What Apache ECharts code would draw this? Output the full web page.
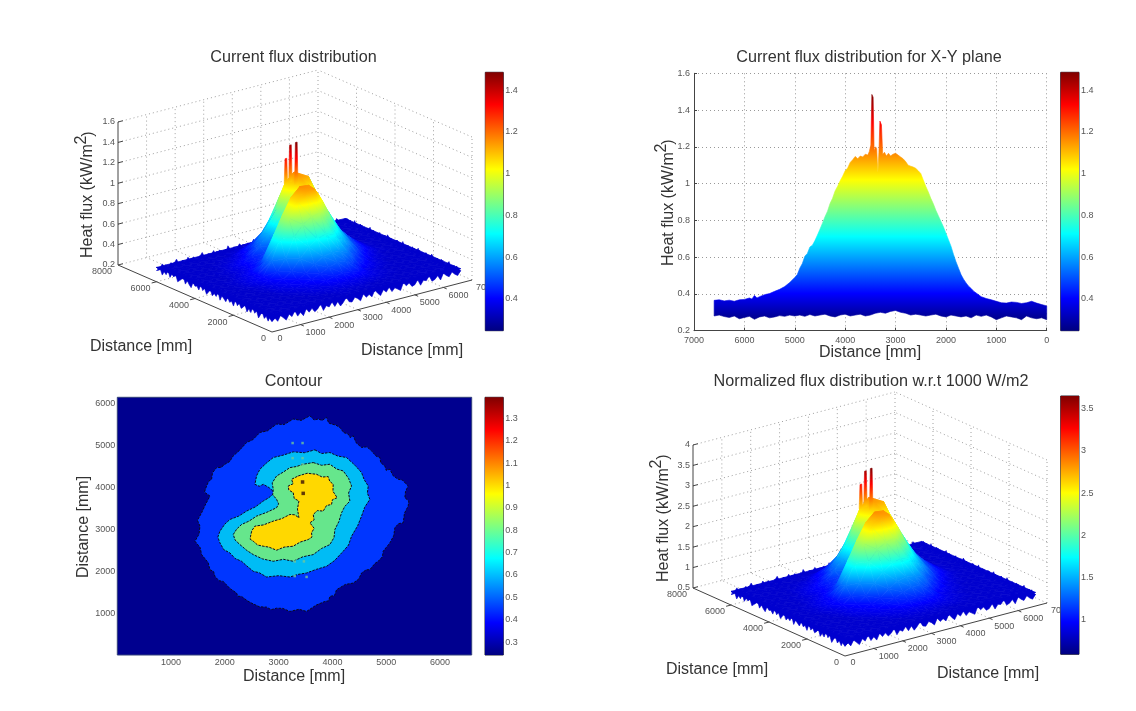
<!DOCTYPE html>
<html><head><meta charset="utf-8">
<style>html,body{margin:0;padding:0;background:#fff}#c{width:1136px;height:711px;filter:blur(0.5px)}</style>
<script src="https://cdn.jsdelivr.net/npm/echarts@6/dist/echarts.min.js"></script>
</head><body><div id="c"></div>
<script>
// ---------- values ----------
const gridX = [0,300,600,900,1200,1500,1800,2100,2400,2700,3000,3300,3600,3900,4200,4500,4800,5100,5400,5700,6000,6300,6600];
const gridY = [0,300,600,900,1200,1500,1800,2100,2400,2700,3000,3300,3600,3900,4200,4500,4800,5100,5400,5700,6000];
// flux in hundredths of kW/m2: one row per gridY, one column per gridX
const fluxRows = [
[34,34,34,34,34,34,34,34,34,34,34,34,34,34,34,34,34,34,34,34,34,34,34],
[34,34,34,34,34,34,34,34,34,34,34,34,34,34,34,34,34,34,34,34,34,34,34],
[34,34,34,34,34,34,34,34,34,35,35,35,35,34,34,34,34,34,34,34,34,34,34],
[34,34,34,34,34,34,34,35,36,37,38,38,38,37,36,35,34,34,34,34,34,34,34],
[34,34,34,34,34,34,35,37,38,41,43,44,43,41,38,36,35,34,34,34,34,34,34],
[34,34,34,34,34,35,37,39,42,45,49,52,51,46,39,37,35,34,34,34,34,34,34],
[34,34,34,34,34,37,39,41,45,52,57,59,58,54,45,40,37,35,34,34,34,34,34],
[34,34,34,34,35,38,41,47,57,66,72,75,72,60,51,44,38,36,34,34,34,34,34],
[34,34,34,34,36,40,46,57,76,86,91,93,82,72,60,50,42,37,35,34,34,34,34],
[34,34,34,35,38,41,54,74,92,106,112,114,99,79,66,56,46,40,36,34,34,34,34],
[34,34,34,35,38,40,52,76,93,108,116,115,106,87,71,59,49,43,38,35,34,34,34],
[34,34,34,35,37,40,45,54,70,82,92,102,105,92,80,62,53,45,39,35,34,34,34],
[34,34,34,34,36,38,41,46,53,60,80,94,108,103,84,68,56,47,40,35,34,34,34],
[34,34,34,34,35,37,40,44,48,52,82,100,114,112,92,74,57,47,40,35,34,34,34],
[34,34,34,34,35,37,40,44,52,62,84,108,116,106,83,64,50,42,37,34,34,34,34],
[34,34,34,34,34,36,38,41,48,60,72,92,100,96,72,58,46,40,36,34,34,34,34],
[34,34,34,34,34,35,36,38,42,50,60,74,80,70,55,45,39,36,34,34,34,34,34],
[34,34,34,34,34,34,35,36,40,45,50,54,56,52,46,40,36,34,34,34,34,34,34],
[34,34,34,34,34,34,34,34,36,38,41,44,45,44,40,36,34,34,34,34,34,34,34],
[34,34,34,34,34,34,34,34,34,34,36,38,40,38,36,34,34,34,34,34,34,34,34],
[34,34,34,34,34,34,34,34,34,34,34,34,34,34,34,34,34,34,34,34,34,34,34]];
// noisy rim of the surface, every 100 mm, hundredths of kW/m2
const edgeNear = [30,33,29,34,31,28,33,30,35,29,32,28,34,30,33,29,31,35,28,32,30,34,29,33,28,31,35,30,29,33,31,28,34,30,32,29,35,31,28,33,30,34,29,32,30,28,35,31,33,29,30,34,28,32,31,35,29,30,33,28,34,31,29,33,30,28,32];
const edgeFar = [34,31,36,32,29,35,33,37,31,34,30,36,32,35,29,33,37,31,34,32,36,30,35,33,29,37,32,34,31,36,33,30,35,32,37,31,34,29,36,33,31,35,32,37,30,34,33,36,31,29,35,32,34,37,31,33,30,36,32,35,31,34,29,36,33,31,34];
const edgeLeft = [31,34,29,33,30,35,32,28,34,31,36,30,33,29,35,32,30,34,31,36,29,33,31,35,30,32,34,29,36,31,33,30,35,32,29,34,31,36,30,33,32,35,29,31,34,30,36,33,31,29,35,32,34,30,36,31,33,29,34,32,31];
const edgeRight = [32,29,35,31,34,30,36,33,29,32,35,31,34,28,33,36,30,32,35,29,34,31,36,33,30,35,29,32,34,31,36,30,33,35,29,32,31,34,36,30,33,29,35,32,31,34,30,36,33,29,34,31,35,32,30,36,29,33,31,35,32];
const spikeX = [3280,3440,3450];
const spikeY = [4146,4150,3860];
const spikeZ = [1.32,1.44,1.49];
const normalizeFactor = 2.45;   // ratio of the two colour bars (flux vs 1000 W/m2 normalised)

const profileUpperDist = [6600,6500,6400,6300,6200,6100,6000,5900,5850,5800,5750,5700,5600,5500,5400,5300,5200,5100,5000,4950,4900,4850,4800,4750,4700,4650,4600,4550,4500,4450,4400,4350,4300,4250,4200,4150,4100,4050,4000,3950,3900,3850,3800,3750,3700,3650,3600,3550,3520,3490,3470,3445,3425,3395,3375,3350,3330,3310,3280,3255,3220,3180,3140,3100,3050,3000,2950,2900,2850,2800,2750,2700,2650,2600,2550,2500,2450,2400,2350,2300,2250,2200,2150,2100,2050,2000,1950,1900,1850,1800,1750,1700,1650,1600,1550,1500,1450,1400,1300,1200,1100,1000,900,800,700,600,500,400,300,200,100,0];
const profileUpper = [.365,.368,.362,.366,.360,.368,.370,.378,.372,.392,.378,.385,.396,.402,.414,.425,.440,.462,.490,.505,.540,.565,.605,.62,.655,.665,.69,.72,.752,.785,.82,.85,.892,.92,.96,.985,1.015,1.04,1.07,1.085,1.115,1.13,1.148,1.135,1.15,1.145,1.16,1.155,1.175,1.21,1.485,1.47,1.18,1.20,1.19,1.06,1.17,1.34,1.32,1.16,1.17,1.15,1.165,1.15,1.16,1.165,1.155,1.145,1.135,1.12,1.10,1.095,1.09,1.083,1.07,1.055,1.02,.985,.955,.92,.89,.855,.825,.795,.765,.73,.695,.66,.615,.575,.54,.505,.48,.46,.442,.43,.415,.405,.385,.375,.368,.36,.352,.35,.356,.354,.348,.352,.36,.35,.342,.335];
const profileLowerDist = [6600,6500,6400,6300,6200,6100,6000,5900,5800,5700,5600,5500,5400,5300,5200,5100,5000,4900,4800,4700,4600,4500,4400,4300,4200,4100,4000,3900,3800,3700,3600,3500,3400,3300,3200,3100,3000,2900,2800,2700,2600,2500,2400,2300,2200,2100,2000,1900,1800,1700,1600,1500,1400,1300,1200,1100,1000,900,800,700,600,500,400,300,200,100,0];
const profileLower = [.28,.285,.277,.272,.28,.265,.272,.278,.262,.275,.28,.27,.275,.282,.278,.285,.28,.285,.278,.288,.28,.285,.29,.28,.275,.285,.29,.28,.285,.29,.28,.285,.295,.30,.295,.305,.31,.30,.295,.285,.29,.285,.28,.285,.29,.28,.275,.285,.28,.275,.28,.27,.285,.278,.285,.275,.26,.27,.28,.275,.27,.26,.28,.27,.265,.27,.26];

// contour bands: [x mm, y mm] outlines
const bandOuter = [[3581,5701],[3660,5600],[3736,5622],[3810,5590],[3891,5662],[3930,5530],[3984,5502],[4060,5480],[4139,5422],[4210,5300],[4294,5263],[4330,5180],[4387,5223],[4440,5060],[4542,4944],[4640,4960],[4728,4864],[4810,4740],[4882,4705],[4900,4580],[4975,4505],[5000,4400],[5068,4426],[5130,4270],[5223,4186],[5300,4170],[5409,4027],[5360,3900],[5347,3748],[5420,3670],[5409,3548],[5340,3380],[5316,3150],[5230,3130],[5161,3030],[5140,2840],[5068,2671],[5030,2610],[4944,2472],[4930,2340],[4851,2233],[4790,2180],[4696,2033],[4630,2030],[4542,1954],[4490,1810],[4387,1714],[4240,1680],[4077,1555],[4040,1420],[3953,1395],[3930,1290],[3860,1276],[3700,1190],[3519,1037],[3380,1090],[3209,1037],[3080,1110],[2962,1116],[2860,1080],[2776,1140],[2640,1150],[2497,1236],[2420,1290],[2311,1395],[2240,1400],[2218,1475],[2090,1590],[1970,1754],[1890,1770],[1815,1874],[1790,1990],[1722,2033],[1690,2200],[1568,2392],[1540,2560],[1444,2711],[1520,2880],[1537,3070],[1490,3210],[1568,3389],[1630,3560],[1722,3788],[1620,3880],[1660,4027],[1700,4140],[1753,4186],[1770,4340],[1846,4465],[1930,4470],[2001,4545],[2090,4610],[2156,4745],[2260,4860],[2404,5063],[2520,5130],[2652,5303],[2790,5340],[2962,5502],[3100,5490],[3271,5622],[3420,5590]];
const bandMid = [[3674,4888],[3800,4800],[3953,4824],[4100,4740],[4263,4705],[4420,4520],[4542,4346],[4590,4180],[4666,4027],[4650,3860],[4696,3708],[4600,3520],[4542,3309],[4470,3080],[4356,2831],[4300,2620],[4201,2472],[4040,2250],[3891,2113],[3700,2040],[3519,1954],[3360,1920],[3210,1858],[3000,1890],[2776,1858],[2640,1960],[2528,1994],[2400,2130],[2311,2233],[2190,2300],[2094,2432],[1980,2510],[1908,2671],[1870,2810],[1908,2950],[2000,3120],[2094,3229],[2260,3310],[2404,3429],[2570,3530],[2714,3668],[2810,3740],[2931,3867],[2820,3990],[2714,4067],[2640,4020],[2559,4067],[2590,4270],[2652,4426],[2770,4570],[2900,4705],[3080,4760],[3271,4840],[3480,4820]];
const bandInner = [[3643,4585],[3800,4520],[3953,4545],[4080,4430],[4201,4386],[4300,4210],[4356,4027],[4300,3860],[4325,3668],[4230,3540],[4170,3389],[4120,3180],[4046,2990],[4030,2800],[3953,2631],[3800,2540],[3643,2392],[3450,2340],[3271,2233],[3090,2280],[2900,2233],[2700,2290],[2528,2392],[2410,2490],[2280,2631],[2190,2740],[2156,2871],[2220,3000],[2311,3110],[2450,3190],[2590,3309],[2780,3400],[2962,3509],[3000,3600],[2962,3708],[2890,3820],[2900,3947],[2880,4100],[2962,4266],[3090,4360],[3210,4465],[3330,4490],[3457,4545]];
const bandTop = [[3364,4266],[3530,4330],[3705,4306],[3810,4240],[3922,4250],[3950,4140],[4015,4067],[4010,3900],[4089,3748],[4000,3700],[3984,3588],[3890,3560],[3829,3429],[3720,3440],[3643,3349],[3660,3220],[3581,3150],[3660,3020],[3612,2910],[3620,2810],[3550,2751],[3400,2690],[3271,2592],[3100,2570],[2962,2496],[2820,2570],[2714,2592],[2610,2620],[2528,2711],[2470,2760],[2478,2831],[2500,2960],[2559,3070],[2720,3100],[2900,3190],[3060,3250],[3210,3349],[3300,3340],[3377,3269],[3350,3480],[3377,3668],[3290,3730],[3271,3867],[3190,3930],[3178,4027],[3270,4080],[3240,4186]];
const bandColors = ['#0036ff','#00bcf5','#66e68c','#ffd800'];
const darkSpots = [[3445,4122],[3457,3851]];
const speckles = [[3260,5050],[3445,5050],[3260,4690],[3445,4690],[3445,4540],[3300,2230],[3470,2230],[3300,1880],[3520,1860]];

const flux3dZTicks = [0.2,0.4,0.6,0.8,1,1.2,1.4,1.6];
const norm3dZTicks = [0.5,1,1.5,2,2.5,3,3.5,4];
const xTickValues = [0,1000,2000,3000,4000,5000,6000,7000];
const xTickLabels = ['0','1000','2000','3000','4000','5000','6000','70'];
const yTickValues = [0,2000,4000,6000,8000];
const yTickLabels = ['0','2000','4000','6000','8000'];
const barFluxTicks = [0.4,0.6,0.8,1,1.2,1.4];
const barContourTicks = [0.3,0.4,0.5,0.6,0.7,0.8,0.9,1,1.1,1.2,1.3];
const barNormTicks = [1,1.5,2,2.5,3,3.5];

// ---------- jet colour map ----------
const jetKnots = [[0,[0,0,128]],[.125,[0,0,255]],[.375,[0,255,255]],[.625,[255,255,0]],[.875,[255,0,0]],[1,[128,0,0]]];
function jet(t){
  t=Math.max(0,Math.min(1,t));
  for(let i=1;i<jetKnots.length;i++){
    if(t<=jetKnots[i][0]){
      const a=jetKnots[i-1],b=jetKnots[i],f=(t-a[0])/(b[0]-a[0]);
      return 'rgb('+a[1].map((v,k)=>Math.round(v+(b[1][k]-v)*f)).join(',')+')';
    }
  }
  return 'rgb(128,0,0)';
}
function jetStops(t0,t1){
  const s=[{offset:0,color:jet(t0)}];
  jetKnots.forEach(k=>{ if(k[0]>t0&&k[0]<t1) s.push({offset:(k[0]-t0)/(t1-t0),color:jet(k[0])}); });
  s.push({offset:1,color:jet(t1)});
  return s;
}
const G=echarts.graphic;
function triFill(p,z,cmin,cmax){
  const mean=(z[0]+z[1]+z[2])/3, flat=jet((mean-cmin)/(cmax-cmin));
  const zlo=Math.min(z[0],z[1],z[2]), zhi=Math.max(z[0],z[1],z[2]);
  const ax=p[1][0]-p[0][0],ay=p[1][1]-p[0][1],bx=p[2][0]-p[0][0],by=p[2][1]-p[0][1];
  const area=ax*by-bx*ay;
  if(Math.abs(area)<0.01||zhi-zlo<1e-4) return flat;
  const dz1=z[1]-z[0],dz2=z[2]-z[0];
  const gx=(dz1*by-dz2*ay)/area, gy=(dz2*ax-dz1*bx)/area, g2=gx*gx+gy*gy;
  if(g2<1e-12) return flat;
  const at=v=>[p[0][0]+(v-z[0])*gx/g2,p[0][1]+(v-z[0])*gy/g2];
  const s=at(zlo),e=at(zhi);
  const t0=Math.max(0,(zlo-cmin)/(cmax-cmin)),t1=Math.min(1,(zhi-cmin)/(cmax-cmin));
  if(t1-t0<1e-4) return flat;
  return new G.LinearGradient(s[0],s[1],e[0],e[1],jetStops(t0,t1),true);
}

// ---------- option scaffolding ----------
const FONT='"Liberation Sans",Arial,sans-serif';
const grids=[],xAxes=[],yAxes=[],series=[],graphics=[],titles=[];
function addGrid(g,x,y){grids.push(g);const i=grids.length-1;xAxes.push(Object.assign({gridIndex:i},x));yAxes.push(Object.assign({gridIndex:i},y));return i;}
const hidden=(max,inv)=>({type:'value',show:false,min:0,max:max,inverse:!!inv});
function title(text,x,y){titles.push({text,left:x,top:y,padding:0,textAlign:'center',textVerticalAlign:'middle',textStyle:{fontFamily:FONT,fontSize:16.2,fontWeight:'normal',color:'#333'}});}
function name(text,x,y,rot,size){graphics.push({type:'text',x,y,rotation:rot||0,z:50,style:{text,fontFamily:FONT,fontSize:size||16,fill:'#333',align:'center',verticalAlign:'middle'}});}
function zName(x,y,sx,sy,px,py){
  graphics.push({type:'text',x,y,rotation:Math.PI/2,z:50,style:{text:'Heat flux (kW/m',fontFamily:FONT,fontSize:16,fill:'#333',align:'left',verticalAlign:'middle'}});
  graphics.push({type:'text',x:sx,y:sy,rotation:Math.PI/2,z:50,style:{text:'2',fontFamily:FONT,fontSize:16,fill:'#333',align:'center',verticalAlign:'middle'}});
  graphics.push({type:'text',x:px,y:py,rotation:Math.PI/2,z:50,style:{text:')',fontFamily:FONT,fontSize:16,fill:'#333',align:'center',verticalAlign:'middle'}});
}
function colorBar(left,top,width,height,min,max,ticks){
  const stops=jetKnots.map(k=>({offset:1-k[0],color:jet(k[0])})).reverse();
  const i=addGrid({left,top,width,height,show:true,borderColor:'#223',borderWidth:1,backgroundColor:'transparent'},
    {type:'category',data:[''],show:false},
    {type:'value',min,max,position:'right',splitLine:{show:false},axisLine:{show:false},
     axisTick:{show:true,inside:true,length:2.5,customValues:ticks,lineStyle:{color:'#222'}},
     axisLabel:{show:true,customValues:ticks,margin:2,fontSize:9,fontFamily:FONT,color:'#555',hideOverlap:false}});
  series.push({type:'bar',xAxisIndex:i,yAxisIndex:i,data:[max],barWidth:'100%',silent:true,itemStyle:{color:new G.LinearGradient(0,0,0,1,stops)}});
}

// ---------- 3-D box panels ----------
function panel3D(v){
  const gi=addGrid({left:v.gl,top:v.gt,width:v.gw,height:v.gh},hidden(v.gw),hidden(v.gh,true));
  const proj=(api,X,Y,Z)=>api.coord([
    v.F[0]+X/7000*v.ex[0]+Y/8000*v.ey[0]-v.gl,
    v.F[1]+X/7000*v.ex[1]+Y/8000*v.ey[1]-(Z-v.z0)/(v.z1-v.z0)*v.h-v.gt]);
  const base={type:'custom',coordinateSystem:'cartesian2d',xAxisIndex:gi,yAxisIndex:gi,silent:true,clip:false,progressive:0,animation:false};
  const dotted=[],solid=[];
  const z0=v.z0,z1=v.z1,XM=7000,YM=8000;
  xTickValues.slice(1,-1).forEach(x=>{dotted.push([x,YM,z0,x,YM,z1],[x,0,z0,x,YM,z0]);solid.push([x,0,z0,x,-170,z0]);});
  yTickValues.slice(1,-1).forEach(y=>{dotted.push([XM,y,z0,XM,y,z1],[0,y,z0,XM,y,z0]);solid.push([0,y,z0,-170,y,z0]);});
  v.zTicks.forEach(z=>{dotted.push([0,YM,z,XM,YM,z],[XM,0,z,XM,YM,z]);solid.push([0,YM,z,170,YM,z]);});
  dotted.push([XM,YM,z0,XM,YM,z1],[XM,0,z0,XM,0,z1]);
  solid.push([0,YM,z0,0,YM,z1],[0,0,z0,0,YM,z0],[0,0,z0,XM,0,z0]);
  const segs=(list,style)=>Object.assign({},base,{data:list,renderItem:(p,api)=>{
    const a=proj(api,api.value(0),api.value(1),api.value(2)),b=proj(api,api.value(3),api.value(4),api.value(5));
    return {type:'line',shape:{x1:a[0],y1:a[1],x2:b[0],y2:b[1]},style};
  }});
  series.push(segs(dotted,{stroke:'#a0a0a0',lineWidth:1,lineDash:[1,3]}));
  series.push(segs(solid,{stroke:'#444',lineWidth:1}));
  // noisy rim strips
  const rimColor=jet((.34*v.scale-v.cmin)/(v.cmax-v.cmin));
  const rim=(vals,at,inA,inB)=>Object.assign({},base,{data:[[0]],renderItem:(p,api)=>{
    const pts=vals.map((z,k)=>{const q=at(k);return proj(api,q[0],q[1],z/100*v.scale);});
    pts.push(proj(api,inB[0],inB[1],.34*v.scale),proj(api,inA[0],inA[1],.34*v.scale));
    return {type:'polygon',shape:{points:pts},style:{fill:rimColor,stroke:rimColor,lineWidth:0.6}};
  }});
  series.push(rim(edgeFar,k=>[k*100,6000],[0,5800],[6600,5800]));
  series.push(rim(edgeRight,k=>[6600,k*100],[6400,0],[6400,6000]));
  // surface, far cells first
  const tris=[];
  for(let j=gridY.length-2;j>=0;j--)for(let i=gridX.length-2;i>=0;i--){tris.push([i,j,0]);tris.push([i,j,1]);}
  const val=(i,j)=>fluxRows[j][i]/100*v.scale;
  series.push(Object.assign({},base,{data:tris,renderItem:(p,api)=>{
    const i=api.value(0),j=api.value(1),t=api.value(2);
    const c=t===0?[[i+1,j],[i,j+1],[i+1,j+1]]:[[i,j],[i+1,j],[i,j+1]];
    const zs=c.map(q=>val(q[0],q[1]));
    const pts=c.map((q,k)=>proj(api,gridX[q[0]],gridY[q[1]],zs[k]));
    const f=triFill(pts,zs,v.cmin,v.cmax);
    return {type:'polygon',shape:{points:pts},style:{fill:f,stroke:f,lineWidth:0.7}};
  }}));
  series.push(rim(edgeNear,k=>[k*100,0],[0,200],[6600,200]));
  series.push(rim(edgeLeft,k=>[0,k*100],[200,0],[200,6000]));
  // narrow spikes on top of the plateau
  series.push(Object.assign({},base,{data:spikeX.map((_,i)=>[i]),renderItem:(p,api)=>{
    const i=api.value(0),X=spikeX[i],Y=spikeY[i],top=spikeZ[i]*v.scale,low=1.08*v.scale;
    const a=proj(api,X-60,Y,low),b=proj(api,X+60,Y,low),c=proj(api,X+30,Y,top),d=proj(api,X-30,Y,top);
    const f=triFill([a,b,c],[low,low,top],v.cmin,v.cmax);
    return {type:'polygon',shape:{points:[a,b,c,d]},style:{fill:f,stroke:f,lineWidth:0.6}};
  }}));
  // tick labels
  const txt=(api,X,Y,Z,dx,dy,s,al)=>{const a=proj(api,X,Y,Z);return {type:'text',x:a[0]+dx,y:a[1]+dy,style:{text:s,fontFamily:FONT,fontSize:9,fill:'#555',align:al,verticalAlign:'middle'}};};
  series.push(Object.assign({},base,{data:v.zTicks.map((_,i)=>[i]),renderItem:(p,api)=>{const z=v.zTicks[api.value(0)];return txt(api,0,YM,z,-3,0,String(z),'right');}}));
  series.push(Object.assign({},base,{data:xTickValues.map((_,i)=>[i]),renderItem:(p,api)=>{const i=api.value(0);
    return i===0?txt(api,0,0,z0,8,7,'0','center'):(i===7?txt(api,XM,0,z0,4,8,xTickLabels[i],'left'):txt(api,xTickValues[i],0,z0,15,8,xTickLabels[i],'center'));}}));
  series.push(Object.assign({},base,{data:yTickValues.map((_,i)=>[i]),renderItem:(p,api)=>{const i=api.value(0);return txt(api,0,yTickValues[i],z0,-6,7,yTickLabels[i],'right');}}));
}
panel3D({gl:60,gt:60,gw:430,gh:300,F:[272,332],ex:[200,-52],ey:[-154,-67],h:143,z0:.2,z1:1.6,zTicks:flux3dZTicks,scale:1,cmin:.248,cmax:1.485});
panel3D({gl:640,gt:385,gw:420,gh:300,F:[845,656],ex:[202,-53],ey:[-152,-68],h:143,z0:.5,z1:4,zTicks:norm3dZTicks,scale:normalizeFactor,cmin:.595,cmax:3.646});

// ---------- X-Y plane profile ----------
{
  const i=addGrid({left:694,top:73.3,width:352.7,height:257.4},
    {type:'value',inverse:true,min:0,max:7000,interval:1000,axisLine:{onZero:false,lineStyle:{color:'#444'}},axisTick:{inside:true,length:3,lineStyle:{color:'#444'}},
     axisLabel:{margin:5,fontSize:9,fontFamily:FONT,color:'#555',formatter:v=>String(v)},splitLine:{show:true,lineStyle:{type:[1,3],color:'#999'}}},
    {type:'value',min:0.2,max:1.6,interval:0.2,axisLine:{show:true,onZero:false,lineStyle:{color:'#444'}},axisTick:{show:true,inside:true,length:3,lineStyle:{color:'#444'}},
     axisLabel:{margin:4,fontSize:9,fontFamily:FONT,color:'#555'},splitLine:{show:true,lineStyle:{type:[1,3],color:'#999'}}});
  const outline=profileUpperDist.map((d,k)=>[d,profileUpper[k]]).concat(profileLowerDist.map((d,k)=>[d,profileLower[k]]).reverse());
  series.push({type:'custom',coordinateSystem:'cartesian2d',xAxisIndex:i,yAxisIndex:i,silent:true,animation:false,data:[[0,.2]],encode:{x:0,y:1},renderItem:(p,api)=>{
    const pts=outline.map(q=>api.coord(q));
    const a=api.coord([0,1.485]),b=api.coord([0,.248]);
    const f=new G.LinearGradient(a[0],a[1],b[0],b[1],jetKnots.map(k=>({offset:1-k[0],color:jet(k[0])})).reverse(),true);
    return {type:'polygon',shape:{points:pts},style:{fill:f,stroke:f,lineWidth:0.6}};
  }});
}

// ---------- contour panel ----------
{
  const i=addGrid({left:117.3,top:397.3,width:354.4,height:257.7,show:true,backgroundColor:'#00008f',borderColor:'#33407a',borderWidth:1},
    {type:'value',min:0,max:6590,interval:1000,axisLine:{show:false},axisTick:{show:false},splitLine:{show:false},
     axisLabel:{margin:3,fontSize:9,fontFamily:FONT,color:'#555',showMinLabel:false,showMaxLabel:false,formatter:v=>String(v)}},
    {type:'value',min:0,max:6140,interval:1000,axisLine:{show:false},axisTick:{show:false},splitLine:{show:false},
     axisLabel:{margin:2,fontSize:9,fontFamily:FONT,color:'#555',showMinLabel:false,showMaxLabel:false,formatter:v=>String(v)}});
  const bands=[bandOuter,bandMid,bandInner,bandTop];
  series.push({type:'custom',coordinateSystem:'cartesian2d',xAxisIndex:i,yAxisIndex:i,silent:true,animation:false,progressive:0,data:bands.map((_,k)=>[k]),encode:{x:[],y:[]},renderItem:(p,api)=>{
    const k=api.value(0);
    return {type:'polygon',shape:{points:bands[k].map(q=>api.coord(q))},style:{fill:bandColors[k],stroke:'#0a0a1e',lineWidth:1,lineDash:[2.5,1.2]}};
  }});
  series.push({type:'scatter',xAxisIndex:i,yAxisIndex:i,silent:true,animation:false,symbol:'rect',symbolSize:2.5,itemStyle:{color:'#6fc79a'},data:speckles});
  series.push({type:'scatter',xAxisIndex:i,yAxisIndex:i,silent:true,animation:false,symbol:'rect',symbolSize:3.5,itemStyle:{color:'#3a1208'},data:darkSpots});
}

colorBar(485.3,72.3,18,258.4,.248,1.485,barFluxTicks);
colorBar(1060.7,72.3,18.3,258.4,.248,1.485,barFluxTicks);
colorBar(485,397.3,18.3,257.7,.242,1.395,barContourTicks);
colorBar(1060.7,396,18.3,258.3,.595,3.646,barNormTicks);

title('Current flux distribution',293.5,58);
title('Current flux distribution for X-Y plane',869,58);
title('Contour',293.5,382);
title('Normalized flux distribution w.r.t 1000 W/m2',871,382);
name('Distance [mm]',141,347);
name('Distance [mm]',412,351);
name('Distance [mm]',870,353);
name('Distance [mm]',294,677);
name('Distance [mm]',84,527,Math.PI/2);
name('Distance [mm]',717,670);
name('Distance [mm]',988,674);
zName(88,258,82,140,89,134);
zName(669,266,662,148,669,142);
zName(664,582,657,464,664,457);

const chart=echarts.init(document.getElementById('c'),null,{renderer:'canvas'});
chart.setOption({animation:false,backgroundColor:'#fff',title:titles,grid:grids,xAxis:xAxes,yAxis:yAxes,series,graphic:{elements:graphics},tooltip:{show:false}});
</script></body></html>
